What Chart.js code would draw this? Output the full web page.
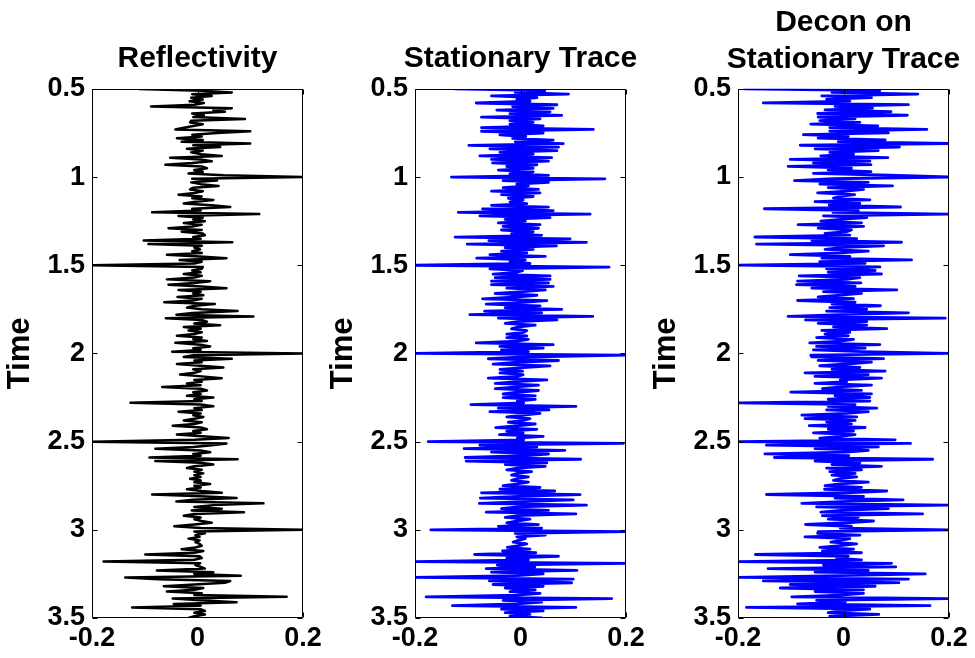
<!DOCTYPE html>
<html><head><meta charset="utf-8">
<script src="https://cdn.jsdelivr.net/npm/chart.js@4.4.0/dist/chart.umd.min.js"></script>
<style>
html,body{margin:0;padding:0;background:#fff;}
#wrap{position:relative;width:975px;height:658px;overflow:hidden;background:#fff;}
.pane{position:absolute;top:0;width:395px;height:658px;}
</style></head><body>
<div id="wrap">
<div class="pane" style="left:0px"><canvas id="c0" width="395" height="658"></canvas></div>
<div class="pane" style="left:323px"><canvas id="c1" width="395" height="658"></canvas></div>
<div class="pane" style="left:646px"><canvas id="c2" width="395" height="658"></canvas></div>
</div>
<script>
// Time samples (s)
const timeSamples = [
0.50,0.51,0.52,0.53,0.54,0.55,0.56,0.57,0.58,0.59,
0.60,0.61,0.62,0.63,0.64,0.65,0.66,0.67,0.68,0.69,
0.70,0.71,0.72,0.73,0.74,0.75,0.76,0.77,0.78,0.79,
0.80,0.81,0.82,0.83,0.84,0.85,0.86,0.87,0.88,0.89,
0.90,0.91,0.92,0.93,0.94,0.95,0.96,0.97,0.98,0.99,
1.00,1.01,1.02,1.03,1.04,1.05,1.06,1.07,1.08,1.09,
1.10,1.11,1.12,1.13,1.14,1.15,1.16,1.17,1.18,1.19,
1.20,1.21,1.22,1.23,1.24,1.25,1.26,1.27,1.28,1.29,
1.30,1.31,1.32,1.33,1.34,1.35,1.36,1.37,1.38,1.39,
1.40,1.41,1.42,1.43,1.44,1.45,1.46,1.47,1.48,1.49,
1.50,1.51,1.52,1.53,1.54,1.55,1.56,1.57,1.58,1.59,
1.60,1.61,1.62,1.63,1.64,1.65,1.66,1.67,1.68,1.69,
1.70,1.71,1.72,1.73,1.74,1.75,1.76,1.77,1.78,1.79,
1.80,1.81,1.82,1.83,1.84,1.85,1.86,1.87,1.88,1.89,
1.90,1.91,1.92,1.93,1.94,1.95,1.96,1.97,1.98,1.99,
2.00,2.01,2.02,2.03,2.04,2.05,2.06,2.07,2.08,2.09,
2.10,2.11,2.12,2.13,2.14,2.15,2.16,2.17,2.18,2.19,
2.20,2.21,2.22,2.23,2.24,2.25,2.26,2.27,2.28,2.29,
2.30,2.31,2.32,2.33,2.34,2.35,2.36,2.37,2.38,2.39,
2.40,2.41,2.42,2.43,2.44,2.45,2.46,2.47,2.48,2.49,
2.50,2.51,2.52,2.53,2.54,2.55,2.56,2.57,2.58,2.59,
2.60,2.61,2.62,2.63,2.64,2.65,2.66,2.67,2.68,2.69,
2.70,2.71,2.72,2.73,2.74,2.75,2.76,2.77,2.78,2.79,
2.80,2.81,2.82,2.83,2.84,2.85,2.86,2.87,2.88,2.89,
2.90,2.91,2.92,2.93,2.94,2.95,2.96,2.97,2.98,2.99,
3.00,3.01,3.02,3.03,3.04,3.05,3.06,3.07,3.08,3.09,
3.10,3.11,3.12,3.13,3.14,3.15,3.16,3.17,3.18,3.19,
3.20,3.21,3.22,3.23,3.24,3.25,3.26,3.27,3.28,3.29,
3.30,3.31,3.32,3.33,3.34,3.35,3.36,3.37,3.38,3.39,
3.40,3.41,3.42,3.43,3.44,3.45,3.46,3.47,3.48,3.49,
3.50];

// Panel 1: reflectivity
const reflectivity = [
-0.111,0.008,0.065,-0.010,0.027,-0.012,0.010,-0.015,0.012,-0.006,
-0.088,0.065,0.030,0.052,-0.010,0.012,-0.008,0.090,-0.012,-0.014,
0.010,-0.008,-0.026,-0.042,0.100,0.037,-0.010,0.008,-0.039,0.010,
-0.030,0.100,-0.008,0.043,-0.020,0.010,-0.012,0.008,0.046,-0.052,
0.006,0.027,-0.010,-0.061,0.008,0.018,-0.006,0.010,-0.017,0.049,
0.200,-0.010,0.037,-0.012,0.006,0.040,-0.008,-0.014,0.010,-0.006,
-0.036,0.008,-0.010,0.030,-0.004,-0.026,0.027,0.062,-0.010,0.006,
-0.086,0.117,-0.036,0.010,-0.008,0.014,-0.026,0.008,-0.010,-0.055,
0.008,-0.030,0.010,0.014,-0.008,0.006,-0.102,0.066,-0.093,0.008,
-0.006,0.005,-0.010,0.008,-0.058,0.004,0.055,-0.034,0.008,-0.006,
-0.200,0.010,0.008,-0.010,0.006,-0.026,0.008,-0.006,-0.058,0.024,
-0.006,-0.055,0.008,0.055,-0.036,0.006,-0.008,0.011,-0.038,0.008,
-0.008,-0.063,0.033,-0.006,-0.020,0.008,0.076,-0.010,-0.040,0.106,
-0.060,0.008,0.018,-0.006,0.043,-0.026,0.006,-0.017,0.008,-0.006,
-0.039,0.008,-0.008,0.018,-0.042,0.006,0.024,-0.008,0.006,-0.048,
0.200,-0.008,-0.026,0.065,-0.006,0.008,-0.039,0.006,0.049,-0.008,
0.006,-0.006,-0.033,0.008,0.046,-0.006,0.008,-0.020,0.006,-0.067,
0.006,0.018,-0.008,0.006,-0.020,0.030,-0.006,0.008,-0.127,0.006,
0.030,-0.006,0.008,-0.036,0.006,-0.008,0.011,-0.006,-0.026,0.008,
-0.006,-0.047,0.006,0.018,-0.008,0.006,-0.039,0.008,0.059,-0.006,
-0.200,0.055,0.027,-0.008,-0.080,0.006,0.024,-0.008,0.006,-0.091,
0.076,-0.080,0.006,0.030,-0.006,-0.020,0.008,-0.006,0.011,-0.006,
0.006,-0.014,0.006,-0.006,0.024,-0.006,0.006,-0.020,0.008,0.046,
-0.086,0.006,0.074,-0.008,-0.040,0.125,0.030,-0.006,0.046,-0.011,
0.088,-0.006,-0.026,0.006,-0.006,0.008,0.027,-0.006,-0.044,0.006,
0.200,-0.006,0.014,-0.004,0.004,-0.017,0.004,-0.004,0.004,0.008,
-0.004,-0.030,0.011,-0.006,-0.099,0.004,0.008,-0.006,-0.178,0.005,
-0.004,0.006,0.014,-0.077,0.030,-0.006,0.082,-0.137,-0.074,0.062,
0.052,-0.006,-0.064,0.011,-0.006,-0.058,0.008,-0.006,0.169,-0.047,
0.006,0.074,-0.045,0.006,-0.124,0.006,0.014,-0.006,0.014,-0.006,
-0.017];

// Panel 2: stationary trace
const stationaryTrace = [
-0.124,0.046,-0.010,0.091,-0.055,0.031,-0.007,0.018,-0.084,0.069,
-0.015,0.062,-0.045,0.056,-0.020,0.078,-0.074,0.037,-0.020,0.024,
-0.020,0.043,-0.074,0.138,-0.074,0.043,-0.039,0.010,-0.015,0.062,
-0.010,0.081,-0.098,0.072,-0.058,0.069,-0.039,0.024,-0.077,0.059,
-0.055,0.053,-0.053,0.031,-0.026,0.024,-0.042,0.024,-0.020,0.053,
-0.131,0.160,-0.033,0.053,-0.007,0.015,-0.033,0.034,-0.055,0.037,
-0.036,0.024,-0.023,0.005,-0.020,0.012,-0.055,0.053,-0.072,0.062,
-0.118,0.132,-0.077,0.056,-0.029,0.009,-0.042,0.037,-0.033,0.034,
-0.036,0.024,-0.017,0.040,-0.124,0.094,-0.060,0.125,-0.101,0.068,
-0.029,0.024,-0.036,0.012,-0.058,0.047,-0.083,0.009,-0.020,0.018,
-0.200,0.168,-0.058,0.004,-0.008,-0.052,0.056,-0.048,0.056,-0.055,
0.053,-0.055,0.062,-0.026,0.047,0.006,-0.048,0.031,-0.008,-0.072,
0.050,0.006,-0.065,0.037,-0.029,0.078,-0.068,0.040,-0.096,0.137,
-0.042,0.069,-0.006,-0.029,0.028,-0.006,-0.017,0.012,0.006,-0.026,
0.012,-0.026,0.015,-0.006,-0.084,0.062,-0.039,0.043,-0.036,0.015,
-0.200,0.200,0.006,-0.061,0.072,-0.006,-0.052,0.056,0.006,-0.039,
0.004,-0.039,0.005,-0.006,-0.061,0.050,-0.006,-0.048,0.034,-0.006,
-0.048,0.034,-0.006,-0.033,0.028,-0.033,0.028,-0.006,0.006,-0.094,
0.105,-0.042,0.054,-0.058,0.037,0.006,-0.026,0.018,0.006,-0.023,
0.028,-0.006,-0.047,0.031,-0.026,0.005,-0.040,0.043,-0.006,0.006,
-0.175,0.195,-0.077,0.031,-0.107,0.084,-0.055,0.053,0.006,-0.105,
0.114,-0.103,0.050,-0.029,0.047,-0.006,-0.026,0.021,-0.006,-0.017,
0.015,-0.006,-0.017,0.015,-0.006,-0.033,0.037,-0.039,0.065,-0.074,
0.113,-0.006,-0.076,0.100,0.006,-0.078,0.125,-0.006,-0.036,0.053,
-0.065,0.105,-0.006,-0.029,0.018,-0.006,-0.026,0.034,-0.042,0.040,
-0.170,0.200,-0.010,0.047,-0.007,0.009,-0.004,-0.014,0.012,-0.004,
-0.025,0.018,-0.034,0.029,-0.087,0.072,-0.026,0.015,-0.200,0.200,
-0.044,0.027,-0.065,0.107,-0.055,0.043,-0.006,-0.200,0.100,-0.059,
0.097,-0.052,0.043,-0.029,0.028,-0.020,0.037,-0.006,-0.179,0.173,
-0.033,0.040,-0.006,-0.129,0.105,-0.036,0.043,-0.029,0.018,-0.020,
0.040];

// Panel 3: decon on stationary trace
const deconTrace = [
-0.187,0.069,-0.022,0.141,-0.041,0.053,-0.032,0.012,-0.152,0.123,
-0.016,0.055,-0.035,0.090,-0.049,0.121,-0.048,0.022,-0.045,0.031,
-0.062,0.065,-0.026,0.158,-0.026,0.085,-0.076,0.009,-0.048,0.079,
-0.010,0.200,-0.082,0.106,-0.054,0.066,-0.026,0.019,-0.043,0.084,
-0.101,0.050,-0.057,0.052,-0.105,0.015,-0.029,0.052,-0.057,0.087,
0.200,-0.020,-0.093,0.047,-0.045,0.093,-0.029,0.038,0.006,-0.049,
0.021,-0.006,-0.019,0.050,-0.054,0.031,-0.027,0.108,-0.150,0.028,
-0.020,0.200,-0.038,0.044,-0.006,-0.043,0.034,-0.086,0.038,-0.048,
0.015,0.006,-0.035,0.012,-0.168,0.025,-0.060,0.110,-0.165,0.076,
-0.006,-0.035,0.047,-0.006,-0.101,0.012,-0.041,0.129,-0.045,0.041,
-0.200,0.069,-0.032,0.060,-0.029,0.072,-0.084,0.031,0.006,-0.087,
0.033,-0.089,0.022,-0.060,0.101,-0.038,0.034,-0.006,-0.048,0.019,
-0.087,0.022,-0.022,0.070,-0.026,0.044,-0.032,0.123,-0.006,-0.105,
0.193,-0.072,0.044,-0.048,0.044,-0.019,0.082,-0.041,0.012,-0.035,
0.009,-0.051,0.019,-0.006,-0.064,0.069,-0.051,0.041,-0.057,0.034,
0.200,-0.062,-0.060,0.076,-0.048,0.053,0.006,-0.045,0.031,-0.022,
0.079,-0.073,0.047,-0.054,0.072,-0.006,0.006,-0.054,0.053,-0.006,
-0.040,0.034,-0.100,0.053,-0.016,0.050,-0.029,0.050,-0.200,0.022,
-0.029,0.063,-0.032,0.047,0.006,-0.079,0.025,-0.073,0.022,-0.032,
0.015,-0.065,0.041,-0.029,0.019,-0.057,0.022,-0.006,-0.045,0.098,
-0.200,0.127,-0.146,0.066,-0.054,0.047,0.006,-0.149,0.010,-0.131,
0.169,-0.054,0.031,-0.022,0.072,-0.032,0.034,-0.026,0.022,-0.022,
0.025,-0.006,-0.019,0.047,-0.006,-0.035,0.034,-0.036,0.082,0.006,
-0.146,0.038,-0.016,0.113,-0.006,-0.079,0.200,-0.051,0.085,-0.006,
-0.043,0.150,-0.040,0.028,-0.029,0.057,0.006,-0.072,0.015,-0.006,
0.200,-0.048,-0.049,0.031,-0.073,0.012,-0.006,-0.024,0.025,-0.006,
-0.045,0.019,-0.040,0.034,-0.167,0.009,-0.013,0.034,-0.200,0.091,
-0.038,0.099,-0.143,0.047,-0.054,0.155,-0.006,-0.200,0.123,-0.152,
0.105,-0.101,0.060,-0.120,0.038,-0.054,0.038,-0.006,-0.098,0.200,
-0.051,0.003,-0.087,0.164,-0.184,0.050,-0.006,-0.029,0.067,-0.026,
0.012];

const panelTitles = [["Reflectivity"], ["Stationary Trace"], ["Decon on", "Stationary Trace"]];
const yTickValues = [0.5, 1, 1.5, 2, 2.5, 3, 3.5];
const yTickLabels = ["0.5", "1", "1.5", "2", "2.5", "3", "3.5"];
const xTickValues = [-0.2, 0, 0.2];
const xTickLabels = ["-0.2", "0", "0.2"];

Chart.defaults.font.family = "'Liberation Sans', Arial, sans-serif";
Chart.defaults.color = '#000';

const framePlugin = {
  id: 'matlabFrame',
  afterDatasetsDraw(chart) {
    const {ctx, chartArea: a, scales} = chart;
    ctx.save();
    ctx.strokeStyle = '#000';
    ctx.lineWidth = 1;
    ctx.beginPath();
    const L = Math.round(a.left) + 0.5, R = Math.round(a.right) - 0.5;
    const T = Math.round(a.top) + 0.5, B = Math.round(a.bottom) - 0.5;
    ctx.rect(L, T, R - L, B - T);
    const tl = 5;
    yTickValues.forEach(v => {
      const y = Math.round(scales.y.getPixelForValue(v)) + 0.5;
      ctx.moveTo(L, y); ctx.lineTo(L + tl, y);
      ctx.moveTo(R, y); ctx.lineTo(R - tl, y);
    });
    xTickValues.forEach(v => {
      const x = Math.round(scales.x.getPixelForValue(v)) + 0.5;
      ctx.moveTo(x, B); ctx.lineTo(x, B - tl);
      ctx.moveTo(x, T); ctx.lineTo(x, T + tl);
    });
    ctx.stroke();
    ctx.restore();
  }
};

function makePanel(id, amps, color, lw, title) {
  const pts = timeSamples.map((t, i) => ({x: amps[i], y: t}));
  const twoLine = title.length > 1;
  return new Chart(document.getElementById(id), {
    type: 'scatter',
    data: {datasets: [{
      data: pts, showLine: true, borderColor: color, backgroundColor: color,
      borderWidth: lw, pointRadius: 0, pointHoverRadius: 0,
      borderJoinStyle: 'round', borderCapStyle: 'round', tension: 0,
      xAxisID: 'x', yAxisID: 'y'
    }]},
    plugins: [framePlugin],
    options: {
      responsive: false, animation: false, events: [],
      layout: {padding: 0},
      plugins: {
        legend: {display: false}, tooltip: {enabled: false},
        title: {
          display: true, text: title, fullSize: true, align: 'center', color: '#000',
          font: {size: 30, weight: 'bold', lineHeight: 1.23},
          padding: twoLine ? {top: 4, bottom: 11} : {top: 40.5, bottom: 11.5}
        }
      },
      scales: {
        x: {
          type: 'linear', min: -0.2, max: 0.2,
          afterBuildTicks: s => { s.ticks = xTickValues.map(v => ({value: v})); },
          afterFit: s => { s.height = 40; },
          ticks: {
            callback: v => xTickLabels[xTickValues.indexOf(v)],
            font: {size: 27, weight: 'bold'}, color: '#000', padding: 4,
            maxRotation: 0, autoSkip: false
          },
          grid: {display: false, drawTicks: false}, border: {display: false}
        },
        y: {
          type: 'linear', position: 'left', reverse: true, min: 0.5, max: 3.5,
          afterBuildTicks: s => { s.ticks = yTickValues.map(v => ({value: v})); },
          afterFit: s => { s.width = 92; },
          ticks: {
            callback: v => yTickLabels[yTickValues.indexOf(v)],
            font: {size: 27, weight: 'bold'}, color: '#000', padding: 7,
            autoSkip: false
          },
          title: {display: true, text: 'Time', color: '#000',
            font: {size: 31, weight: 'bold'}, padding: {top: 2, bottom: 0}},
          grid: {display: false, drawTicks: false}, border: {display: false}
        },
        spacer: {
          type: 'linear', position: 'right', min: 0, max: 1,
          afterFit: s => { s.width = 92; },
          ticks: {display: false},
          grid: {display: false, drawTicks: false}, border: {display: false}
        }
      }
    }
  });
}

makePanel('c0', reflectivity, '#000000', 2.5, panelTitles[0]);
makePanel('c1', stationaryTrace, '#0000ff', 2.8, panelTitles[1]);
makePanel('c2', deconTrace, '#0000ff', 2.8, panelTitles[2]);
</script>
</body></html>
